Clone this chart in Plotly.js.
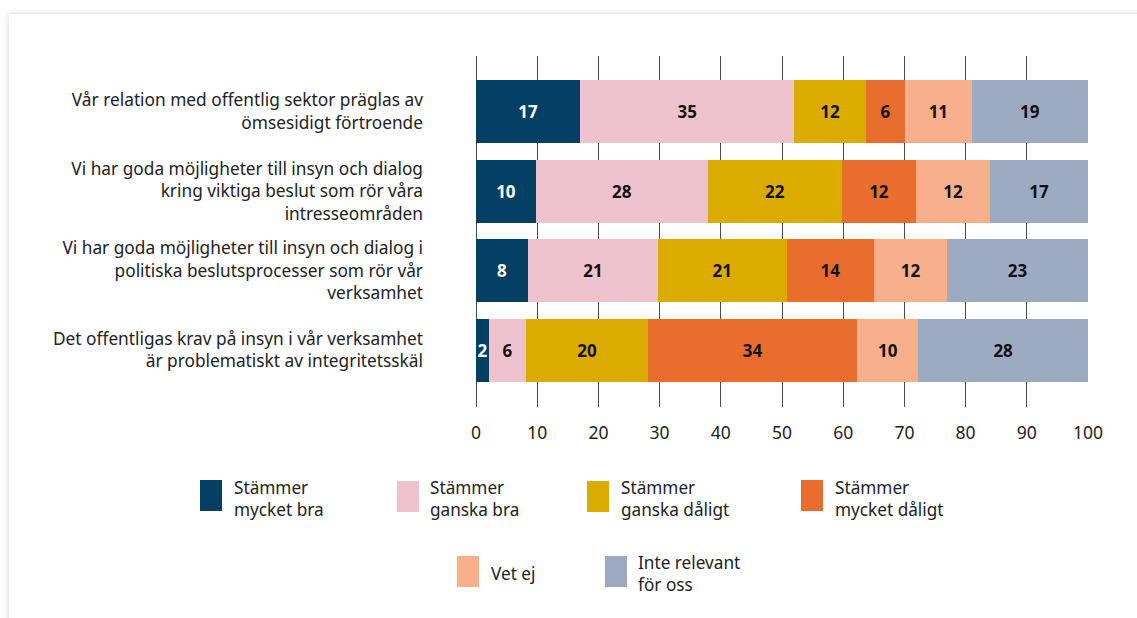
<!DOCTYPE html>
<html>
<head>
<meta charset="utf-8">
<script src="https://cdn.plot.ly/plotly-3.0.1.min.js"></script>
<style>
  html, body { margin: 0; padding: 0; background: #ffffff; width: 1137px; height: 618px; overflow: hidden; }
  #card { position: absolute; left: 9px; top: 14px; width: 1200px; height: 700px; background: #ffffff;
          box-shadow: 0 0 6px rgba(0,0,0,0.18); }
  #chart { position: absolute; left: 0; top: 0; width: 1137px; height: 618px; }
</style>
</head>
<body>
<div id="card"></div>
<div id="chart"></div>
<script>
// Categories (top to bottom)
const categories = [
  "Vår relation med offentlig sektor präglas av<br>ömsesidigt förtroende",
  "Vi har goda möjligheter till insyn och dialog<br>kring viktiga beslut som rör våra<br>intresseområden",
  "Vi har goda möjligheter till insyn och dialog i<br>politiska beslutsprocesser som rör vår<br>verksamhet",
  "Det offentligas krav på insyn i vår verksamhet<br>är problematiskt av integritetsskäl"
];

// Series names (legend labels)
const seriesNames = [
  "Stämmer<br>mycket bra",
  "Stämmer<br>ganska bra",
  "Stämmer<br>ganska dåligt",
  "Stämmer<br>mycket dåligt",
  "Vet ej",
  "Inte relevant<br>för oss"
];

// Segment shares (percent, as drawn)
const mycketBra    = [17.0,  9.8,  8.5,  2.1];
const ganskaBra    = [35.0, 28.1, 21.2,  6.1];
const ganskaDaligt = [11.7, 21.9, 21.1, 19.9];
const mycketDaligt = [ 6.4, 12.1, 14.2, 34.2];
const vetEj        = [10.9, 12.1, 12.0, 10.0];
const inteRelevant = [19.0, 16.0, 23.0, 27.7];

// Printed labels on the bars
const mycketBraLbl    = [17, 10,  8,  2];
const ganskaBraLbl    = [35, 28, 21,  6];
const ganskaDaligtLbl = [12, 22, 21, 20];
const mycketDaligtLbl = [ 6, 12, 14, 34];
const vetEjLbl        = [11, 12, 12, 10];
const inteRelevantLbl = [19, 17, 23, 28];

// X tick values
const xTicks = [0, 10, 20, 30, 40, 50, 60, 70, 80, 90, 100];

const values = [mycketBra, ganskaBra, ganskaDaligt, mycketDaligt, vetEj, inteRelevant];
const labels = [mycketBraLbl, ganskaBraLbl, ganskaDaligtLbl, mycketDaligtLbl, vetEjLbl, inteRelevantLbl];
const colors = ["#023f62", "#efc3ce", "#dcab00", "#e96e2e", "#f7b08b", "#9dabc2"];
const textColors = ["#ffffff", "#111111", "#111111", "#111111", "#111111", "#111111"];

const FONT = "Noto Sans, Open Sans, sans-serif";

const traces = values.map((v, i) => ({
  type: "bar",
  orientation: "h",
  name: seriesNames[i],
  y: categories,
  x: v,
  text: labels[i].map(String),
  textposition: "inside",
  insidetextanchor: "middle",
  constraintext: "none",
  textangle: 0,
  textfont: { family: FONT, size: 17, color: textColors[i], weight: 700 },
  marker: { color: colors[i], line: { width: 0 } },
  hoverinfo: "skip",
  showlegend: false
}));

// Plot area geometry (pixels)
const W = 1137, H = 618;
const L = 476, R = 1088, T = 56, B = 407;
const px = x => (x - L) / (R - L);
const py = y => (B - y) / (B - T);

// Custom legend
const legendItems = [
  { sx: 200, sy: 480, tx: 232, ty: 498 },
  { sx: 397, sy: 481, tx: 428, ty: 498 },
  { sx: 587, sy: 481, tx: 619, ty: 498 },
  { sx: 801, sy: 480, tx: 833, ty: 498 },
  { sx: 457, sy: 556, tx: 489, ty: 573 },
  { sx: 605, sy: 556, tx: 636, ty: 573 }
];
const shapes = legendItems.map((p, i) => ({
  type: "rect", xref: "paper", yref: "paper",
  x0: px(p.sx), x1: px(p.sx + 22), y0: py(p.sy), y1: py(p.sy + 31),
  fillcolor: colors[i], line: { width: 0 }
}));
const annotations = legendItems.map((p, i) => ({
  xref: "paper", yref: "paper", x: px(p.tx), y: py(p.ty),
  xanchor: "left", yanchor: "middle", align: "left", showarrow: false,
  text: seriesNames[i], font: { family: FONT, size: 17.2, color: "#222222" }
}));

const layout = {
  width: W, height: H,
  margin: { l: L, r: W - R, t: T, b: H - B, pad: 0 },
  paper_bgcolor: "rgba(0,0,0,0)",
  plot_bgcolor: "rgba(0,0,0,0)",
  barmode: "stack",
  bargap: 0.21,
  showlegend: false,
  font: { family: FONT, size: 17, color: "#222222" },
  xaxis: {
    range: [0, 100],
    tickvals: xTicks,
    ticktext: xTicks.map(String),
    showgrid: true, gridcolor: "#4a4a4a", gridwidth: 1,
    zeroline: true, zerolinecolor: "#4a4a4a", zerolinewidth: 1,
    showline: false, ticks: "",
    ticklabelstandoff: 13,
    tickfont: { family: FONT, size: 17.5, color: "#222222" },
    fixedrange: true
  },
  yaxis: {
    type: "category",
    range: [3.715, -0.7],
    showgrid: false, zeroline: false, showline: false, ticks: "",
    ticklabelstandoff: 52,
    tickfont: { family: FONT, size: 17.3, color: "#222222" },
    fixedrange: true
  },
  shapes: shapes,
  annotations: annotations,
  hovermode: false
};

Plotly.newPlot("chart", traces, layout, { displayModeBar: false, staticPlot: true });
</script>
</body>
</html>
